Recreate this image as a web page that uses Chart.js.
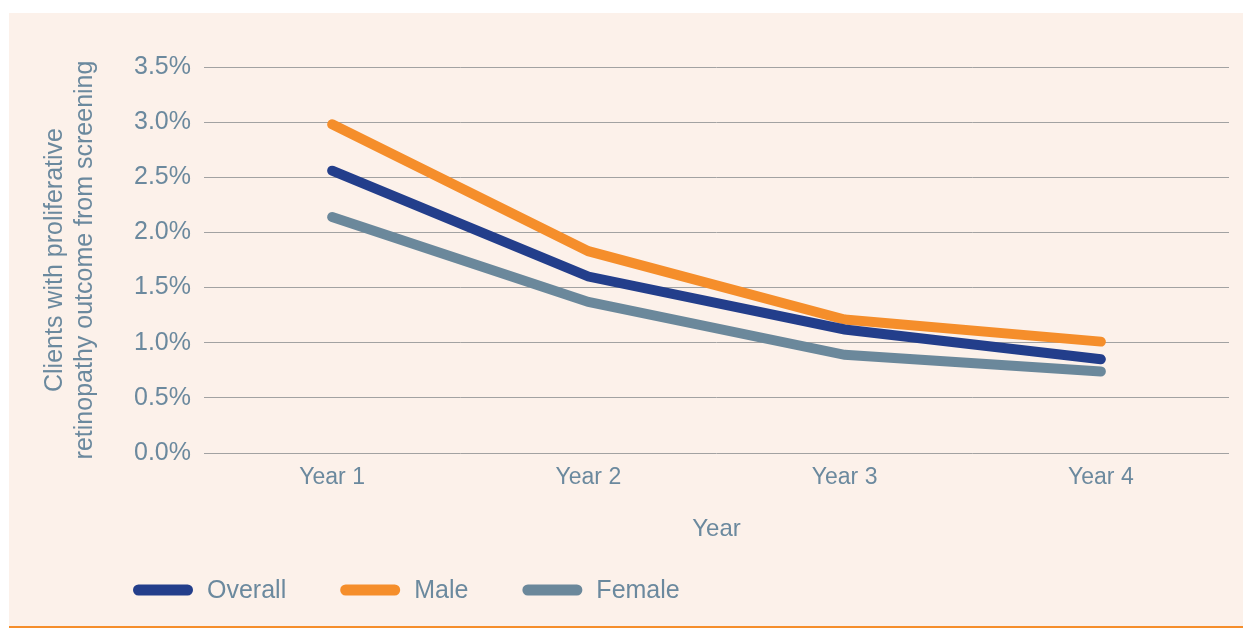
<!DOCTYPE html>
<html>
<head>
<meta charset="utf-8">
<script src="https://cdn.jsdelivr.net/npm/chart.js@4"></script>
<style>
  html, body { margin: 0; padding: 0; background: #ffffff; }
  #panel {
    position: absolute;
    left: 9px;
    top: 13px;
    width: 1234px;
    height: 613px;
    background: #fcf1ea;
    border-bottom: 2px solid #f58e2b;
  }
  #retinopathy-chart { display: block; }
</style>
</head>
<body>
<div id="panel">
  <canvas id="retinopathy-chart" width="1234" height="613"></canvas>
</div>
<script>
let yearLabels = ["Year 1", "Year 2", "Year 3", "Year 4"];
let overallValues = [2.56, 1.6, 1.12, 0.85];
let maleValues = [2.98, 1.83, 1.21, 1.01];
let femaleValues = [2.14, 1.37, 0.89, 0.74];

const textColor = "#6b899e";
const fontFamily = "'Liberation Sans', Arial, Helvetica, sans-serif";

// simple legend along the bottom: rounded line swatch + label
const lineLegend = {
  id: "lineLegend",
  afterDraw(chart) {
    const ctx = chart.ctx;
    const y = 577;
    let x = 124;
    ctx.save();
    ctx.font = "25px " + fontFamily;
    ctx.textBaseline = "middle";
    ctx.textAlign = "left";
    chart.data.datasets.forEach((ds) => {
      ctx.strokeStyle = ds.borderColor;
      ctx.lineWidth = 11;
      ctx.lineCap = "round";
      ctx.beginPath();
      ctx.moveTo(x + 5.5, y);
      ctx.lineTo(x + 54.5, y);
      ctx.stroke();
      ctx.fillStyle = textColor;
      ctx.fillText(ds.label, x + 74, y + 1);
      x += 74 + ctx.measureText(ds.label).width + 54;
    });
    ctx.restore();
  },
};

const lineStyle = {
  borderWidth: 10,
  borderCapStyle: "round",
  borderJoinStyle: "miter",
  pointRadius: 0,
  pointHoverRadius: 0,
  tension: 0,
  fill: false,
};

const CanvasChart = document.getElementById("retinopathy-chart");

new Chart(CanvasChart, {
  type: "line",
  data: {
    labels: yearLabels,
    datasets: [
      { label: "Overall", data: overallValues, borderColor: "#233e8b", ...lineStyle },
      { label: "Male", data: maleValues, borderColor: "#f58e2b", ...lineStyle },
      { label: "Female", data: femaleValues, borderColor: "#6b889b", ...lineStyle },
    ],
  },
  plugins: [lineLegend],
  options: {
    responsive: false,
    animation: false,
    layout: {
      padding: { top: 54, right: 14, bottom: 82, left: 0 },
    },
    plugins: {
      legend: { display: false },
      tooltip: { enabled: false },
    },
    scales: {
      x: {
        offset: true,
        grid: { display: false, drawTicks: false },
        border: { display: false },
        ticks: {
          color: textColor,
          padding: 11,
          font: { family: fontFamily, size: 23 },
        },
        title: {
          display: true,
          text: "Year",
          color: textColor,
          padding: 0,
          font: { family: fontFamily, size: 24 },
        },
        afterFit(scale) {
          scale.height = 91;
        },
      },
      y: {
        min: 0,
        max: 3.5,
        grid: { color: "#a2a2a2", lineWidth: 1, drawTicks: false },
        border: { display: false },
        ticks: {
          stepSize: 0.5,
          color: textColor,
          padding: 13,
          font: { family: fontFamily, size: 25 },
          callback: (v) => v.toFixed(1) + "%",
        },
        title: {
          display: true,
          text: ["Clients with proliferative", "retinopathy outcome from screening"],
          color: textColor,
          padding: { top: 31, bottom: 0 },
          font: { family: fontFamily, size: 25, lineHeight: 1.2 },
        },
        afterFit(scale) {
          scale.width = 195;
        },
      },
    },
  },
});
</script>
</body>
</html>
